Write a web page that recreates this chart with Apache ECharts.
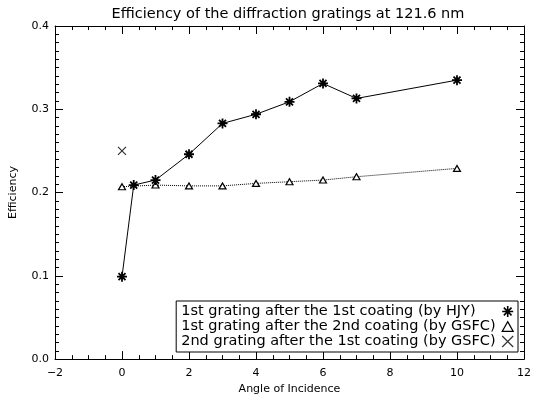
<!DOCTYPE html>
<html>
<head>
<meta charset="utf-8">
<script src="https://cdn.jsdelivr.net/npm/echarts@6/dist/echarts.min.js"></script>
<style>
  html, body { margin: 0; padding: 0; background: #fff; }
  #main { width: 534px; height: 400px; }
</style>
</head>
<body>
<div id="main"></div>
<script>
// values
var hjyAngle = [0, 0.35, 1, 2, 3, 4, 5, 6, 7, 10];
var hjyEff = [0.099, 0.209, 0.215, 0.246, 0.283, 0.294, 0.309, 0.331, 0.313, 0.335];
var gsfcAngle = [0, 1, 2, 3, 4, 5, 6, 7, 10];
var gsfcEff = [0.207, 0.209, 0.208, 0.208, 0.211, 0.213, 0.215, 0.219, 0.229];
var second2Angle = [0];
var second2Eff = [0.25];

var seriesNames = [
  "1st grating after the 1st coating (by HJY)",
  "1st grating after the 2nd coating (by GSFC)",
  "2nd grating after the 1st coating (by GSFC)"
];

var starPath = "path://M0,-10 L0,10 M-10,0 L10,0 M-7,-7 L7,7 M-7,7 L7,-7";
var triPath = "path://M0,-9 L9,7 L-9,7 Z";
var crossPath = "path://M-10,-10 L10,10 M-10,10 L10,-10";

var FONT = "DejaVu Sans";

var pairs = function(xs, ys) {
  return xs.map(function(x, i) { return [x, ys[i]]; });
};

var fmtX = function(v) {
  return v < 0 ? "\u2212" + Math.abs(v) : String(v);
};

var baseAxis = {
  axisLine: { show: true, onZero: false, lineStyle: { color: "#000", width: 1 } },
  axisTick: { show: true, inside: true, length: 8, lineStyle: { color: "#000" } },
  splitLine: { show: false },
  minorSplitLine: { show: false }
};

var myChart = echarts.init(document.getElementById("main"));
var option = {
  animation: false,
  backgroundColor: "#fff",
  title: {
    text: "Efficiency of the diffraction gratings at 121.6 nm",
    left: 283,
    top: 2,
    textAlign: "center",
    textStyle: { fontFamily: FONT, fontSize: 14.5, fontWeight: "normal", color: "#000" }
  },
  grid: { left: 52, right: 6, top: 26, bottom: 34 },
  legend: {
    orient: "vertical",
    right: 16,
    bottom: 48,
    align: "right",
    itemGap: 0,
    itemWidth: 11,
    itemHeight: 11,
    padding: [3, 4, 3, 5],
    borderColor: "#000",
    borderWidth: 1,
    borderRadius: 0,
    backgroundColor: "#fff",
    formatter: function(name) { return "{t|" + name + "}"; },
    textStyle: {
      fontFamily: FONT, fontSize: 14.5, lineHeight: 14, color: "#000",
      rich: { t: { fontFamily: FONT, fontSize: 14.5, lineHeight: 14, width: 316, align: "left", color: "#000" } }
    },
    data: [
      { name: seriesNames[0], icon: starPath, itemStyle: { color: "transparent", borderColor: "#000", borderWidth: 1.6 } },
      { name: seriesNames[1], icon: triPath, itemStyle: { color: "transparent", borderColor: "#000", borderWidth: 1.2 } },
      { name: seriesNames[2], icon: crossPath, itemStyle: { color: "transparent", borderColor: "#000", borderWidth: 1.2 } }
    ]
  },
  xAxis: [
    Object.assign({}, baseAxis, {
      type: "value",
      min: -2,
      max: 12,
      interval: 2,
      minorTick: { show: true, splitNumber: 4, length: 4, lineStyle: { color: "#000" } },
      name: "Angle of Incidence",
      nameLocation: "middle",
      nameGap: 22,
      nameTextStyle: { fontFamily: FONT, fontSize: 11, color: "#000" },
      axisLabel: { fontFamily: FONT, fontSize: 11, color: "#000", margin: 9, formatter: fmtX }
    }),
    Object.assign({}, baseAxis, {
      type: "value",
      position: "top",
      min: -2,
      max: 12,
      interval: 2,
      minorTick: { show: true, splitNumber: 4, length: 4, lineStyle: { color: "#000" } },
      axisLabel: { show: false }
    })
  ],
  yAxis: [
    Object.assign({}, baseAxis, {
      type: "value",
      min: 0,
      max: 0.4,
      interval: 0.1,
      minorTick: { show: true, splitNumber: 10, length: 4, lineStyle: { color: "#000" } },
      name: "Efficiency",
      nameLocation: "middle",
      nameGap: 36,
      nameTextStyle: { fontFamily: FONT, fontSize: 11, color: "#000" },
      axisLabel: {
        fontFamily: FONT, fontSize: 11, color: "#000", margin: 6,
        formatter: function(v) { return v.toFixed(1); }
      }
    }),
    Object.assign({}, baseAxis, {
      type: "value",
      position: "right",
      min: 0,
      max: 0.4,
      interval: 0.1,
      minorTick: { show: true, splitNumber: 10, length: 4, lineStyle: { color: "#000" } },
      axisLabel: { show: false }
    })
  ],
  series: [
    {
      name: seriesNames[0],
      type: "line",
      data: pairs(hjyAngle, hjyEff),
      symbol: starPath,
      symbolSize: 10,
      itemStyle: { color: "transparent", borderColor: "#000", borderWidth: 1.8 },
      lineStyle: { color: "#000", width: 1, type: "solid" },
      z: 3
    },
    {
      name: seriesNames[1],
      type: "line",
      data: pairs(gsfcAngle, gsfcEff),
      symbol: triPath,
      symbolSize: [7, 6],
      itemStyle: { color: "#fff", borderColor: "#000", borderWidth: 1.2 },
      lineStyle: { color: "#000", width: 1, type: "dotted" },
      z: 2
    },
    {
      name: seriesNames[2],
      type: "scatter",
      data: pairs(second2Angle, second2Eff),
      symbol: crossPath,
      symbolSize: 8,
      itemStyle: { color: "transparent", borderColor: "#000", borderWidth: 1.2 }
    }
  ]
};
myChart.setOption(option);
</script>
</body>
</html>
